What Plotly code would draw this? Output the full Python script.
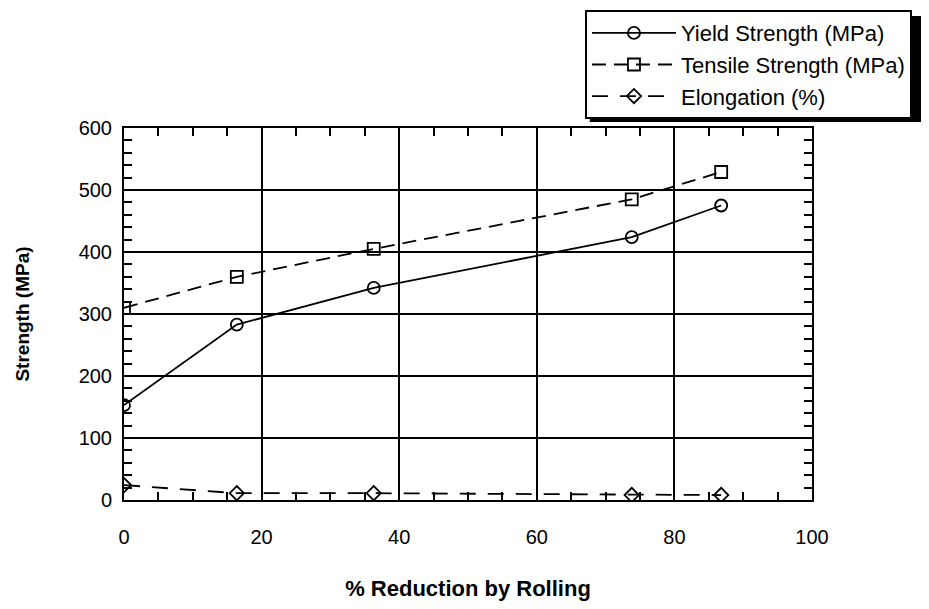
import plotly.graph_objects as go

# % reduction by rolling
reduction = [0, 16.4, 36.3, 73.8, 86.8]

yield_strength = [153, 283, 342, 424, 475]
tensile_strength = [310, 360, 405, 485, 529]
elongation = [24, 11, 11, 8, 8]

fig = go.Figure()

fig.add_trace(go.Scatter(x=reduction, y=yield_strength, name="Yield Strength (MPa)",
                         mode="lines+markers", legendgroup="a",
                         line=dict(color="black", width=1.8),
                         marker=dict(symbol="circle-open", size=12, color="black", line=dict(width=1.8))))
fig.add_trace(go.Scatter(x=reduction, y=tensile_strength, name="Tensile Strength (MPa)",
                         mode="lines+markers", legendgroup="b",
                         line=dict(color="black", width=1.8, dash="14px,8px"),
                         marker=dict(symbol="square-open", size=12, color="black", line=dict(width=1.8))))
fig.add_trace(go.Scatter(x=reduction, y=elongation, name="Elongation (%)",
                         mode="lines+markers", legendgroup="c",
                         line=dict(color="black", width=1.8, dash="16px,12px"),
                         marker=dict(symbol="diamond-open", size=11, color="black", line=dict(width=1.8))))

axis_style = dict(
    showline=True, linecolor="black", linewidth=2, mirror="ticks",
    showgrid=True, gridcolor="black", gridwidth=2,
    ticks="inside", ticklen=8, tickwidth=1.5, tickcolor="black",
    zeroline=False,
    tickfont=dict(size=20, color="black"),
)

fig.update_xaxes(range=[0, 100], dtick=20, tick0=0,
                 minor=dict(dtick=5, ticks="inside", ticklen=8, tickwidth=1.5, tickcolor="black", showgrid=False),
                 ticklabelstandoff=18,
                 title=dict(text="<b>% Reduction by Rolling</b>", font=dict(size=22, color="black"), standoff=36),
                 **axis_style)
fig.update_yaxes(range=[0, 600], dtick=100, tick0=0,
                 minor=dict(dtick=20, ticks="inside", ticklen=8, tickwidth=1.5, tickcolor="black", showgrid=False),
                 ticklabelstandoff=6,
                 title=dict(text="<b>Strength (MPa)</b>", font=dict(size=19, color="black"), standoff=44),
                 **axis_style)

# drop shadow behind the legend box
fig.add_shape(type="rect", xref="paper", yref="paper",
              x0=0.677, x1=1.16, y0=1.016, y1=1.301,
              fillcolor="black", line=dict(width=0), layer="above")

fig.update_layout(
    width=913, height=593,
    margin=dict(l=116, r=109, t=120, b=101, autoexpand=False),
    paper_bgcolor="white", plot_bgcolor="white",
    font=dict(family="Liberation Sans, Arial, sans-serif", color="black"),
    legend=dict(x=0.670, y=1.317, xanchor="left", yanchor="top",
                bgcolor="white", bordercolor="black", borderwidth=2,
                font=dict(size=22, color="black"), tracegroupgap=0,
                itemwidth=84),
    showlegend=True,
)

fig.write_html("out.html")
